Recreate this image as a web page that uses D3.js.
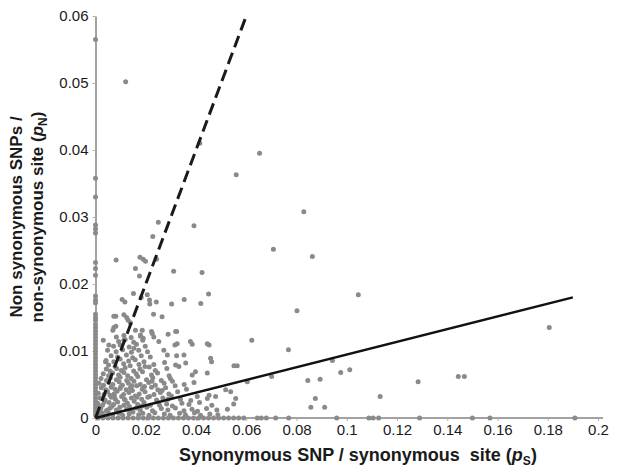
<!DOCTYPE html>
<html>
<head>
<meta charset="utf-8">
<script src="https://cdn.jsdelivr.net/npm/d3@7"></script>
<style>
  body { margin: 0; background: #fff; }
  text { font-family: "Liberation Sans", Arial, sans-serif; }
</style>
</head>
<body>
<script>
var width = 617,
    height = 467;

// tick values and their printed labels
var xTicks = [0, 0.02, 0.04, 0.06, 0.08, 0.1, 0.12, 0.14, 0.16, 0.18, 0.2];
var xTickLabels = ["0", "0.02", "0.04", "0.06", "0.08", "0.1", "0.12", "0.14", "0.16", "0.18", "0.2"];
var yTicks = [0, 0.01, 0.02, 0.03, 0.04, 0.05, 0.06];
var yTickLabels = ["0", "0.01", "0.02", "0.03", "0.04", "0.05", "0.06"];

// genes with no synonymous SNP (pS = 0): their pN values
var zeroPs = [0.0565, 0.0358, 0.033, 0.0288, 0.0282, 0.0276, 0.0232, 0.0223, 0.0213, 0.0182, 0.0176, 0.0172,
  0.0155, 0.015, 0.0146, 0.014, 0.0135, 0.013, 0.0125, 0.012, 0.0115, 0.011, 0.0105, 0.01, 0.0095, 0.009,
  0.0085, 0.008, 0.0075, 0.007, 0.0065, 0.006, 0.0055, 0.005, 0.0045, 0.004, 0.0035, 0.003, 0.0025, 0.002,
  0.0015, 0.001, 0.0005];

// genes with no non synonymous SNP (pN = 0): their pS values
var zeroPn = [0.001, 0.003, 0.005, 0.007, 0.009, 0.011, 0.013, 0.015, 0.017, 0.019, 0.021, 0.023, 0.025, 0.027,
  0.029, 0.031, 0.033, 0.035, 0.037, 0.039, 0.041, 0.043, 0.045, 0.047, 0.049, 0.051, 0.053, 0.055, 0.057, 0.059,
  0.0644, 0.066, 0.068, 0.0717, 0.0769, 0.096, 0.1088, 0.1105, 0.1127, 0.129, 0.150, 0.157, 0.1908];

// other genes: [pS, pN]
var snps = [
  [0.012, 0.0502], [0.0653, 0.0395], [0.056, 0.0363], [0.0415, 0.041], [0.0829, 0.0308], [0.025, 0.0292],
  [0.0392, 0.0287], [0.0228, 0.0271], [0.0708, 0.0252], [0.0863, 0.0241], [0.0082, 0.0236],
  [0.0177, 0.024], [0.019, 0.0237], [0.0199, 0.0234], [0.0243, 0.0237], [0.0159, 0.0223], [0.0175, 0.0212],
  [0.0311, 0.0219], [0.0424, 0.0217], [0.1046, 0.0184], [0.0151, 0.0186], [0.0106, 0.0177], [0.0117, 0.0173],
  [0.0182, 0.018], [0.0206, 0.0184], [0.0215, 0.0176], [0.0216, 0.017], [0.0242, 0.0173], [0.0303, 0.017],
  [0.0353, 0.0177], [0.0419, 0.0171], [0.045, 0.0185], [0.0802, 0.016], [0.0231, 0.0155], [0.0265, 0.0151],
  [0.0073, 0.0152], [0.0081, 0.0152], [0.0113, 0.0154], [0.0124, 0.015], [0.013, 0.0146], [0.0139, 0.0142],
  [0.0073, 0.0135], [0.0081, 0.0137], [0.0069, 0.0131], [0.0159, 0.0131], [0.0186, 0.0131], [0.0223, 0.0129],
  [0.0289, 0.0125], [0.0323, 0.0129], [0.1806, 0.0135], [0.0622, 0.0116], [0.0768, 0.0102], [0.0943, 0.0086],
  [0.0701, 0.0062], [0.0845, 0.0056], [0.0894, 0.0058], [0.0976, 0.0068], [0.1012, 0.0072], [0.1284, 0.0054],
  [0.1444, 0.0062], [0.1468, 0.0062], [0.1133, 0.0032], [0.0875, 0.0029], [0.0857, 0.0016], [0.0912, 0.0016],
  [0.0179, 0.0124], [0.019, 0.0119], [0.0226, 0.0126], [0.0153, 0.0104], [0.0272, 0.0101], [0.0053, 0.0109],
  [0.004, 0.0084], [0.0113, 0.0116],
  // dense cluster near the origin
  [0.0012, 0.0006], [0.0032, 0.0004], [0.0051, 0.0008], [0.0068, 0.0005], [0.0093, 0.0007], [0.0108, 0.0004],
  [0.0134, 0.0006], [0.0149, 0.0009], [0.0172, 0.0005], [0.0188, 0.0007], [0.0213, 0.0004], [0.0236, 0.0008],
  [0.0274, 0.0006], [0.0297, 0.0004], [0.0335, 0.0007], [0.0358, 0.0005], [0.0394, 0.0008], [0.0418, 0.0004],
  [0.0455, 0.0006], [0.0487, 0.0005],
  [0.0021, 0.0014], [0.0043, 0.0011], [0.0058, 0.0015], [0.0083, 0.0012], [0.0097, 0.0016], [0.0124, 0.0013],
  [0.0138, 0.0010], [0.0163, 0.0015], [0.0178, 0.0012], [0.0204, 0.0016], [0.0227, 0.0011], [0.0262, 0.0014],
  [0.0288, 0.0012], [0.0318, 0.0015], [0.0352, 0.0011], [0.0384, 0.0013], [0.0406, 0.0010], [0.0442, 0.0014],
  [0.0483, 0.0012], [0.0525, 0.0013],
  [0.0009, 0.0022], [0.0028, 0.0019], [0.0054, 0.0023], [0.0072, 0.0020], [0.0088, 0.0024], [0.0113, 0.0019],
  [0.0127, 0.0022], [0.0154, 0.0025], [0.0168, 0.0020], [0.0193, 0.0023], [0.0218, 0.0019], [0.0247, 0.0024],
  [0.0283, 0.0021], [0.0306, 0.0018], [0.0344, 0.0022], [0.0372, 0.0020], [0.0414, 0.0023], [0.0463, 0.0019],
  [0.055, 0.0021],
  [0.0018, 0.0030], [0.0038, 0.0027], [0.0063, 0.0031], [0.0079, 0.0028], [0.0104, 0.0032], [0.0118, 0.0027],
  [0.0143, 0.0030], [0.0158, 0.0033], [0.0184, 0.0028], [0.0208, 0.0031], [0.0243, 0.0027], [0.0268, 0.0030],
  [0.0302, 0.0033], [0.0338, 0.0028], [0.0379, 0.0026], [0.0405, 0.0032], [0.0445, 0.0029], [0.0558, 0.0029],
  [0.0011, 0.0037], [0.0034, 0.0035], [0.0048, 0.0039], [0.0074, 0.0036], [0.0086, 0.0040], [0.0112, 0.0035],
  [0.0133, 0.0038], [0.0147, 0.0041], [0.0174, 0.0036], [0.0197, 0.0039], [0.0233, 0.0035], [0.0258, 0.0038],
  [0.0292, 0.0036], [0.0327, 0.0039], [0.0452, 0.0034], [0.0478, 0.0032],
  [0.0023, 0.0045], [0.0041, 0.0042], [0.0062, 0.0046], [0.0078, 0.0043], [0.0101, 0.0047], [0.0122, 0.0042],
  [0.0139, 0.0045], [0.0164, 0.0048], [0.0186, 0.0043], [0.0223, 0.0046], [0.0248, 0.0042], [0.0279, 0.0045],
  [0.0317, 0.0048], [0.0362, 0.0043], [0.0518, 0.0042], [0.0538, 0.0039],
  [0.0014, 0.0052], [0.0032, 0.0049], [0.0053, 0.0053], [0.0069, 0.0050], [0.0094, 0.0054], [0.0107, 0.0049],
  [0.0131, 0.0052], [0.0153, 0.0055], [0.0178, 0.0050], [0.0212, 0.0053], [0.0238, 0.0049], [0.0273, 0.0052],
  [0.0306, 0.0055], [0.0353, 0.0050], [0.0392, 0.0053],
  [0.0022, 0.0059], [0.0044, 0.0056], [0.0059, 0.0060], [0.0083, 0.0057], [0.0098, 0.0061], [0.0124, 0.0056],
  [0.0142, 0.0059], [0.0168, 0.0062], [0.0203, 0.0057], [0.0228, 0.0060], [0.0262, 0.0056], [0.0298, 0.0059],
  [0.0604, 0.0054],
  [0.0031, 0.0066], [0.0052, 0.0063], [0.0068, 0.0067], [0.0092, 0.0064], [0.0113, 0.0068], [0.0128, 0.0063],
  [0.0162, 0.0066], [0.0187, 0.0069], [0.0223, 0.0064], [0.0247, 0.0067], [0.0293, 0.0063], [0.0385, 0.0064],
  [0.0043, 0.0073], [0.0058, 0.0070], [0.0084, 0.0074], [0.0103, 0.0071], [0.0118, 0.0075], [0.0152, 0.0070],
  [0.0177, 0.0073], [0.0214, 0.0076], [0.0238, 0.0071], [0.0284, 0.0074], [0.0398, 0.0069], [0.0445, 0.0067],
  [0.0052, 0.0079], [0.0078, 0.0077], [0.0112, 0.0081], [0.0138, 0.0078], [0.0173, 0.0080], [0.0197, 0.0077],
  [0.0232, 0.0080], [0.0319, 0.0079], [0.0332, 0.0077], [0.0551, 0.0078], [0.0564, 0.0078],
  [0.0042, 0.0086], [0.0073, 0.0084], [0.0098, 0.0088], [0.0132, 0.0085], [0.0158, 0.0087], [0.0193, 0.0084],
  [0.0275, 0.0083], [0.0359, 0.0082], [0.0462, 0.0084],
  [0.0062, 0.0093], [0.0088, 0.0091], [0.0123, 0.0094], [0.0148, 0.0090], [0.0182, 0.0093], [0.0218, 0.0091],
  [0.0286, 0.0094], [0.0323, 0.0093], [0.0352, 0.0094], [0.0458, 0.0089],
  [0.0048, 0.0101], [0.0082, 0.0099], [0.0108, 0.0102], [0.0143, 0.0098], [0.0172, 0.0101], [0.0207, 0.0099],
  [0.0072, 0.0107], [0.0098, 0.0109], [0.0134, 0.0106], [0.0163, 0.0110], [0.0198, 0.0107], [0.0316, 0.0109],
  [0.0385, 0.011], [0.0452, 0.0109],
  [0.0031, 0.0116], [0.0092, 0.0114], [0.0118, 0.0117], [0.0152, 0.0113], [0.0188, 0.0116], [0.0252, 0.0114],
  [0.0325, 0.0111], [0.0378, 0.0114], [0.0445, 0.0111],
  [0.0083, 0.0121], [0.0113, 0.0123], [0.0142, 0.0120], [0.0179, 0.0122], [0.0232, 0.0121], [0.0319, 0.0129],
  [0.0015, 0.0016], [0.0025, 0.0008], [0.0035, 0.0024], [0.0065, 0.0017], [0.0075, 0.0033], [0.0095, 0.0009],
  [0.0115, 0.0028], [0.0135, 0.0017], [0.0145, 0.0048], [0.0165, 0.0031], [0.0185, 0.0018], [0.0195, 0.0047],
  [0.0215, 0.0032], [0.0225, 0.0055], [0.0255, 0.0019], [0.0265, 0.0041], [0.0288, 0.0028], [0.0098, 0.0044],
  [0.0058, 0.0034], [0.0048, 0.0012]
];

// fitted lines: solid (observed) and dashed (pN = pS)
var solidLine = [[0, 0], [0.19, 0.018]];
var dashedLine = [[0, 0], [0.06, 0.06]];

var x = d3.scaleLinear().domain([0, 0.2]).range([95.5, 598]),
    y = d3.scaleLinear().domain([0, 0.06]).range([418, 16]);

var svg = d3.select("body").append("svg")
    .attr("width", width)
    .attr("height", height)
    .style("background", "#fff");

// axes
var xAxis = svg.append("g")
    .attr("transform", "translate(0," + y(0) + ")")
    .call(d3.axisBottom(x).tickValues(xTicks).tickSize(3).tickSizeOuter(0)
      .tickFormat(function(d, i) { return xTickLabels[i]; }));

var yAxis = svg.append("g")
    .attr("transform", "translate(" + x(0) + ",0)")
    .call(d3.axisLeft(y).tickValues(yTicks).tickSize(3).tickSizeOuter(0)
      .tickFormat(function(d, i) { return yTickLabels[i]; }));

xAxis.select(".domain").attr("d", "M" + x(0) + ",0H" + (x(0.2) + 5));

[xAxis, yAxis].forEach(function(a) {
  a.select(".domain").attr("stroke", "#a2a2a2").attr("stroke-width", 2);
  a.selectAll(".tick line").attr("stroke", "#b0b0b0");
  a.selectAll(".tick text")
      .attr("fill", "#1a1a1a")
      .style("font-family", "'Liberation Sans', Arial, sans-serif")
      .style("font-size", "15px");
});
xAxis.selectAll(".tick text").attr("y", 6);
yAxis.selectAll(".tick text").attr("x", -7);

// points
var dots = svg.append("g").attr("fill", "#8a8a8a");

dots.selectAll("circle.ps0")
    .data(zeroPs)
  .enter().append("circle")
    .attr("class", "ps0")
    .attr("cx", x(0))
    .attr("cy", function(d) { return y(d); })
    .attr("r", 2.5);

dots.selectAll("circle.pn0")
    .data(zeroPn)
  .enter().append("circle")
    .attr("class", "pn0")
    .attr("cx", function(d) { return x(d); })
    .attr("cy", y(0))
    .attr("r", 2.5);

dots.selectAll("circle.snp")
    .data(snps)
  .enter().append("circle")
    .attr("class", "snp")
    .attr("cx", function(d) { return x(d[0]); })
    .attr("cy", function(d) { return y(d[1]); })
    .attr("r", 2.5);

// lines
var line = d3.line()
    .x(function(d) { return x(d[0]); })
    .y(function(d) { return y(d[1]); });

svg.append("path")
    .datum(solidLine)
    .attr("d", line)
    .attr("fill", "none")
    .attr("stroke", "#111")
    .attr("stroke-width", 2.5);

svg.append("path")
    .datum(dashedLine)
    .attr("d", line)
    .attr("fill", "none")
    .attr("stroke", "#1a1a1a")
    .attr("stroke-width", 3)
    .attr("stroke-dasharray", "12,6");

// axis titles
var xTitle = svg.append("text")
    .attr("x", 358)
    .attr("y", 461)
    .attr("text-anchor", "middle")
    .style("font-size", "18px")
    .style("font-weight", "bold")
    .attr("fill", "#1a1a1a");
xTitle.append("tspan").text("Synonymous SNP / synonymous\u00a0 site (");
xTitle.append("tspan").style("font-style", "italic").text("p");
xTitle.append("tspan").attr("dy", 4).style("font-size", "12px").text("S");
xTitle.append("tspan").attr("dy", -4).text(")");

var yTitle = svg.append("g")
    .attr("transform", "translate(0,217) rotate(-90)")
    .attr("fill", "#1a1a1a")
    .style("font-size", "17px")
    .style("font-weight", "bold");
yTitle.append("text")
    .attr("x", 0)
    .attr("y", 22)
    .attr("text-anchor", "middle")
    .text("Non synonymous SNPs /");
var yt2 = yTitle.append("text")
    .attr("x", 0)
    .attr("y", 43)
    .attr("text-anchor", "middle");
yt2.append("tspan").text("non-synonymous site (");
yt2.append("tspan").style("font-style", "italic").text("p");
yt2.append("tspan").attr("dy", 4).style("font-size", "12px").text("N");
yt2.append("tspan").attr("dy", -4).text(")");
</script>
</body>
</html>
